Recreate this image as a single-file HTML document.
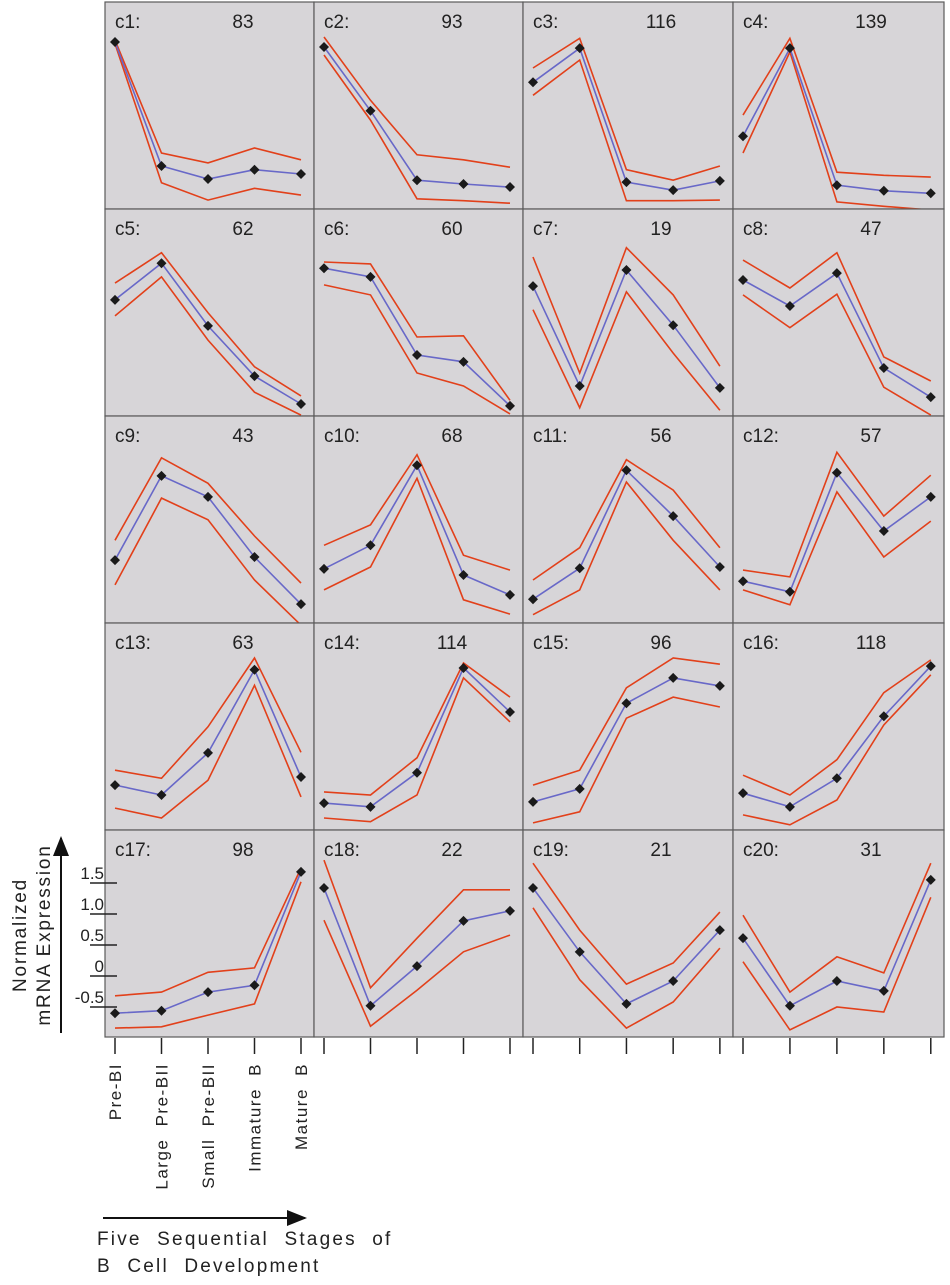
<!DOCTYPE html>
<html><head><meta charset="utf-8"><style>
body{margin:0;background:#fff;}
svg text{font-family:"Liberation Sans",sans-serif;fill:#222;}
</style></head><body>
<svg id="fig" width="950" height="1280" viewBox="0 0 950 1280" xmlns="http://www.w3.org/2000/svg">
<defs><marker id="ah" markerWidth="10" markerHeight="8" refX="9" refY="4" orient="auto"><path d="M0,0 L10,4 L0,8 z" fill="#111"/></marker></defs>
<g id="panels"></g>
<g id="axes"></g>
</svg>
<script>
const stages = ["Pre-BI","Large Pre-BII","Small Pre-BII","Immature B","Mature B"];
const clusterIds = ["c1","c2","c3","c4","c5","c6","c7","c8","c9","c10","c11","c12","c13","c14","c15","c16","c17","c18","c19","c20"];
const geneCounts = [83,93,116,139,62,60,19,47,43,68,56,57,63,114,96,118,98,22,21,31];
const meanValues = [
[1.71,-0.29,-0.50,-0.35,-0.42],[1.63,0.60,-0.52,-0.58,-0.63],[1.06,1.61,-0.55,-0.68,-0.53],[0.19,1.61,-0.60,-0.69,-0.73],
[0.89,1.48,0.47,-0.34,-0.79],[1.40,1.26,0,-0.11,-0.82],[1.11,-0.50,1.37,0.48,-0.53],[1.21,0.79,1.32,-0.21,-0.68],
[0.03,1.39,1.05,0.08,-0.68],[-0.11,0.27,1.56,-0.21,-0.53],[-0.60,-0.10,1.48,0.74,-0.08],[-0.31,-0.48,1.44,0.50,1.05],
[-0.26,-0.42,0.26,1.60,-0.13],[-0.55,-0.61,-0.06,1.63,0.92],[-0.53,-0.32,1.06,1.47,1.34],[-0.39,-0.61,-0.15,0.85,1.66],
[-0.60,-0.56,-0.26,-0.15,1.68],[1.42,-0.48,0.16,0.89,1.05],[1.42,0.39,-0.45,-0.08,0.74],[0.61,-0.48,-0.08,-0.24,1.55]];
const upperValues = [
[1.74,-0.08,-0.24,0,-0.19],[1.79,0.77,-0.11,-0.19,-0.31],[1.29,1.77,-0.35,-0.52,-0.29],[0.53,1.77,-0.39,-0.44,-0.47],
[1.16,1.65,0.68,-0.19,-0.66],[1.50,1.47,0.29,0.31,-0.73],[1.58,-0.29,1.73,0.97,-0.18],[1.53,1.08,1.65,-0.03,-0.42],
[0.35,1.68,1.27,0.42,-0.34],[0.27,0.60,1.73,0.11,-0.13],[-0.29,0.23,1.65,1.16,0.23],[-0.13,-0.24,1.77,0.74,1.40],
[-0.02,-0.15,0.68,1.79,0.27],[-0.37,-0.42,0.18,1.71,1.16],[-0.26,-0.02,1.31,1.79,1.69],[-0.10,-0.42,0.15,1.23,1.76],
[-0.32,-0.26,0.06,0.13,1.74],[1.87,-0.19,0.61,1.39,1.39],[1.82,0.74,-0.13,0.21,1.03],[0.98,-0.26,0.31,0.05,1.82]];
const lowerValues = [
[1.68,-0.56,-0.84,-0.65,-0.76],[1.50,0.45,-0.82,-0.85,-0.89],[0.85,1.42,-0.85,-0.85,-0.84],[-0.08,1.55,-0.87,-0.94,-1.0],
[0.63,1.26,0.24,-0.60,-0.97],[1.13,0.97,-0.29,-0.50,-0.95],[0.73,-0.85,1.02,0.03,-0.89],[0.97,0.44,0.98,-0.52,-0.97],
[-0.37,1.03,0.68,-0.29,-1.02],[-0.45,-0.08,1.35,-0.61,-0.84],[-0.85,-0.45,1.29,0.35,-0.45],[-0.45,-0.69,1.13,0.08,0.66],
[-0.63,-0.79,-0.18,1.35,-0.45],[-0.79,-0.85,-0.42,1.47,0.76],[-0.87,-0.69,0.82,1.16,1.0],[-0.74,-0.90,-0.50,0.71,1.52],
[-0.84,-0.82,-0.63,-0.45,1.52],[0.90,-0.81,-0.23,0.39,0.66],[1.10,-0.06,-0.84,-0.42,0.45],[0.23,-0.87,-0.50,-0.58,1.27]];
const yTickValues = [1.5,1.0,0.5,0,-0.5];
const yTickLabels = ["1.5","1.0","0.5","0","-0.5"];

const NS="http://www.w3.org/2000/svg";
const colLeft=[105,314,523,733], colW=[209,209,210,211];
const rowTop=[2,209,416,623,830], rowH=207;
function xScale(c,i){return colLeft[c]+10+46.5*i*(colW[c]/209);}
function yScale(r,v){return rowTop[r]+146-62*v;}
function mk(tag,attrs,parent){const e=document.createElementNS(NS,tag);for(const k in attrs)e.setAttribute(k,attrs[k]);parent.appendChild(e);return e;}
const P=document.getElementById('panels'), A=document.getElementById('axes');
clusterIds.forEach((id,k)=>{
  const r=Math.floor(k/4), c=k%4;
  const g=mk('g',{},P);
  
  
  const bg=mk('rect',{x:colLeft[c],y:rowTop[r],width:colW[c],height:rowH,fill:'#d7d5d8',stroke:'#5a5a5a','stroke-width':1.2},g);
  
  
  const t1=mk('text',{x:colLeft[c]+10,y:rowTop[r]+26,'font-size':19},g);t1.textContent=id+':';
  
  
  const t2=mk('text',{x:colLeft[c]+138,y:rowTop[r]+26,'font-size':19,'text-anchor':'middle'},g);t2.textContent=geneCounts[k];
  
  
  const pts=a=>a.map((v,i)=>xScale(c,i).toFixed(1)+','+yScale(r,v).toFixed(1)).join(' ');
  const up=mk('polyline',{points:pts(upperValues[k]),fill:'none',stroke:'#e2401a','stroke-width':1.6},g);
  
  
  const lo=mk('polyline',{points:pts(lowerValues[k]),fill:'none',stroke:'#e2401a','stroke-width':1.6},g);
  
  
  const mn=mk('polyline',{points:pts(meanValues[k]),fill:'none',stroke:'#6868c8','stroke-width':1.6},g);
  
  
  meanValues[k].forEach((v,i)=>{
    const x=xScale(c,i),y=yScale(r,v);
    const d=mk('path',{d:`M${x},${y-5} L${x+5},${y} L${x},${y+5} L${x-5},${y} Z`,fill:'#1a1a1a'},g);
    
    
  });
});
for(let c=0;c<4;c++)for(let i=0;i<5;i++){
  const x=xScale(c,i);
  const t=mk('line',{x1:x,y1:1038,x2:x,y2:1054,stroke:'#222','stroke-width':1.5},A);
  
  
}
stages.forEach((s,i)=>{
  const x=xScale(0,i)+6,y=1063;
  const t=mk('text',{x:x,y:y,'font-size':17,'text-anchor':'end','letter-spacing':'1.5','word-spacing':'6',transform:`rotate(-90 ${x} ${y})`},A);
  t.textContent=s;
  
  
});
yTickValues.forEach((v,i)=>{
  const y=yScale(4,v);
  const l=mk('line',{x1:90,y1:y,x2:117,y2:y,stroke:'#222','stroke-width':1.5},A);
  
  
  const t=mk('text',{x:104,y:y-4,'font-size':17,'text-anchor':'end'},A);
  t.textContent=yTickLabels[i];
  
  
});
const ya=mk('line',{x1:61,y1:1033,x2:61,y2:838,stroke:'#111','stroke-width':2,'marker-end':'url(#ah)'},A);


[["Normalized",26],["mRNA  Expression",50]].forEach(([s,x])=>{
  const y=935;
  const t=mk('text',{x:x,y:y,'font-size':19,'text-anchor':'middle','letter-spacing':'1.8',transform:`rotate(-90 ${x} ${y})`},A);
  t.textContent=s;
  
  
});
const xa=mk('line',{x1:103,y1:1218,x2:305,y2:1218,stroke:'#111','stroke-width':2,'marker-end':'url(#ah)'},A);


[["Five Sequential Stages of",1245],["B Cell Development",1272]].forEach(([s,y])=>{
  const t=mk('text',{x:97,y:y,'font-size':19,'letter-spacing':'2.2','word-spacing':'8'},A);
  t.textContent=s;
  
  
});
</script>
</body></html>
